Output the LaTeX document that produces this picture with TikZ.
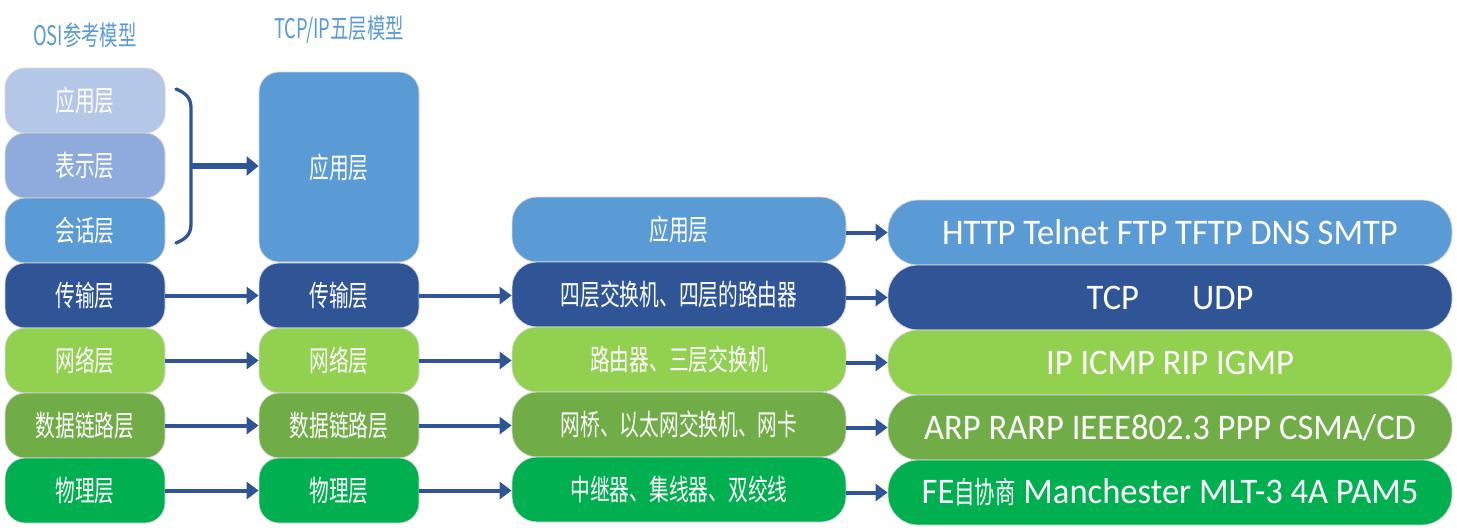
\documentclass[tikz,border=0pt]{standalone}
\usepackage{fontspec}
\setmainfont{Carlito}[FakeStretch=0.96]
\newfontfamily\cjk{Noto Sans CJK SC}[FakeStretch=0.68]
\usetikzlibrary{arrows.meta}
\definecolor{appL}{HTML}{B4C7E7}
\definecolor{preL}{HTML}{8FAADC}
\definecolor{sesL}{HTML}{5B9BD5}
\definecolor{traL}{HTML}{2F5597}
\definecolor{netL}{HTML}{92D050}
\definecolor{dlkL}{HTML}{70AD47}
\definecolor{phyL}{HTML}{00B050}
\definecolor{arrC}{HTML}{2F5597}
\definecolor{titC}{HTML}{5B9BD5}
\tikzset{
  layerbox/.style={draw=black!16, line width=0.8pt, text=white, inner sep=0pt,
    font=\cjk\fontsize{29}{29}\selectfont, align=center},
  colone/.style={layerbox, rounded corners=20pt, minimum width=160pt, minimum height=65pt},
  colthree/.style={layerbox, rounded corners=25pt, minimum width=334pt, minimum height=65pt},
  colfour/.style={layerbox, rounded corners=30pt, minimum width=564pt, minimum height=65pt,
    font=\fontsize{36}{36}\selectfont},
  titletext/.style={text=titC, inner sep=0pt, font=\cjk\fontsize{27}{27}\selectfont},
  flowarrow/.style={draw=arrC, line width=4pt, -{Triangle[length=12pt,width=17pt]}},
  bigarrow/.style={draw=arrC, line width=6pt, -{Triangle[length=12pt,width=19pt]}},
  bracestyle/.style={draw=arrC, line width=3.3pt, line cap=round}
}
\begin{document}
\begin{tikzpicture}[x=1pt,y=-1pt]
\useasboundingbox (0,0) rectangle (1457,531);
% titles
\node[titletext] (tosi) at (85,35) {OSI参考模型};
\node[titletext] (ttcp) at (339,30) {TCP/IP五层模型};
% OSI column
\node[colone, fill=appL] (o1) at (85,100.5) {应用层};
\node[colone, fill=preL] (o2) at (85,165.5) {表示层};
\node[colone, fill=sesL] (o3) at (85,230.5) {会话层};
\node[colone, fill=traL] (o4) at (85,295.5) {传输层};
\node[colone, fill=netL] (o5) at (85,360.5) {网络层};
\node[colone, fill=dlkL] (o6) at (85,425.5) {数据链路层};
\node[colone, fill=phyL] (o7) at (85,490.5) {物理层};
% TCP/IP column
\node[colone, fill=sesL, minimum height=190pt] (t1) at (339,167) {应用层};
\node[colone, fill=traL] (t4) at (339,295.5) {传输层};
\node[colone, fill=netL] (t5) at (339,360.5) {网络层};
\node[colone, fill=dlkL] (t6) at (339,425.5) {数据链路层};
\node[colone, fill=phyL] (t7) at (339,490.5) {物理层};
% devices column
\node[colthree, fill=sesL] (d1) at (679,229.5) {应用层};
\node[colthree, fill=traL] (d4) at (679,294.5) {四层交换机、四层的路由器};
\node[colthree, fill=netL] (d5) at (679,359.5) {路由器、三层交换机};
\node[colthree, fill=dlkL] (d6) at (679,424.5) {网桥、以太网交换机、网卡};
\node[colthree, fill=phyL] (d7) at (679,489.5) {中继器、集线器、双绞线};
% protocols column
\node[colfour, fill=sesL] (p1) at (1170,232.5) {HTTP Telnet FTP TFTP DNS SMTP};
\node[colfour, fill=traL] (p4) at (1170,297.5) {TCP\hspace{53pt}UDP};
\node[colfour, fill=netL] (p5) at (1170,362.5) {IP ICMP RIP IGMP};
\node[colfour, fill=dlkL] (p6) at (1170,427.5) {ARP RARP IEEE802.3 PPP CSMA/CD};
\node[colfour, fill=phyL] (p7) at (1170,492.5) {FE{\cjk\fontsize{30}{30}\selectfont 自协商} Manchester MLT-3 4A PAM5};
% brace
\draw[bracestyle] (176,89) .. controls (186,93) and (191,98) .. (191,108)
  -- (191,224) .. controls (191,234) and (186,239) .. (176,243);
\coordinate (bmid) at (190,166);
\draw[bigarrow] (bmid) -- (bmid -| t1.west);
% arrows between columns
\foreach \i in {4,5,6,7} {
  \draw[flowarrow] (o\i.east) -- (t\i.west);
  \draw[flowarrow] (t\i.east) -- (t\i.east -| d\i.west);
}
\foreach \i in {1,4,5,6,7} {
  \draw[flowarrow] (d\i.east |- p\i.west) -- (p\i.west);
}
\end{tikzpicture}
\end{document}
